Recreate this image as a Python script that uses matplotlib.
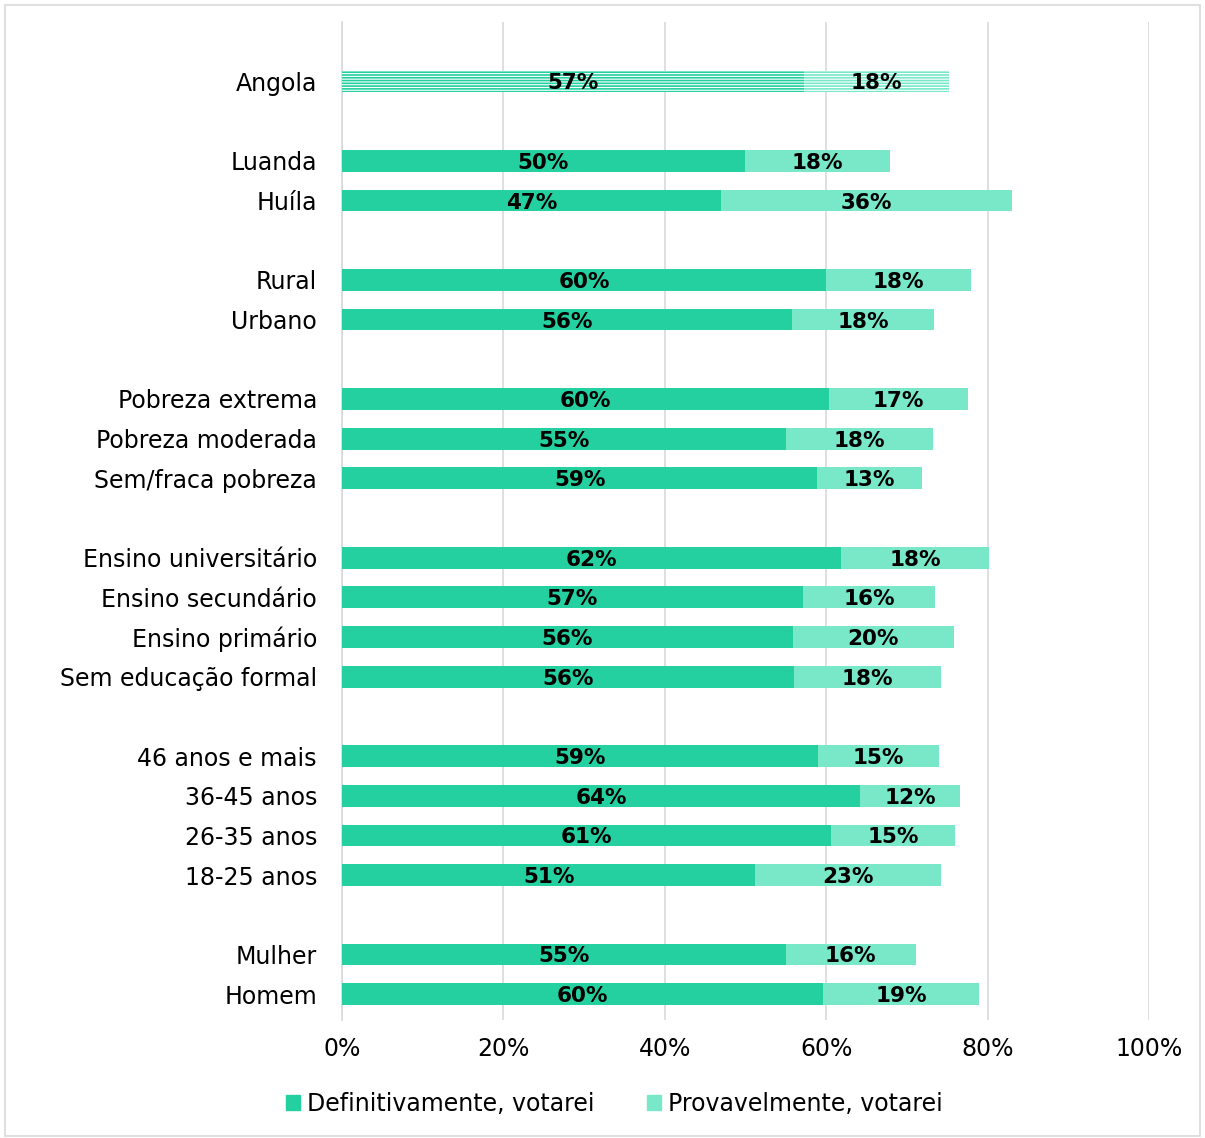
###################################################
# stacked horizontal bars: intenção de voto por grupo
###################################################
import matplotlib.pyplot as plt
from matplotlib.patches import Rectangle

# categories from top to bottom, None marks an empty row between groups
categories = ["Angola", None,
              "Luanda", "Huíla", None,
              "Rural", "Urbano", None,
              "Pobreza extrema", "Pobreza moderada", "Sem/fraca pobreza", None,
              "Ensino universitário", "Ensino secundário", "Ensino primário",
              "Sem educação formal", None,
              "46 anos e mais", "36-45 anos", "26-35 anos", "18-25 anos", None,
              "Mulher", "Homem"]

definitivamente = [57.2, 49.9, 47.0, 60.0, 55.8, 60.3, 55.0, 58.9, 61.8, 57.1,
                   55.9, 56.0, 59.0, 64.2, 60.6, 51.2, 55.0, 59.6]
provavelmente = [18.0, 18.0, 36.0, 18.0, 17.6, 17.3, 18.2, 13.0, 18.4, 16.4,
                 19.9, 18.2, 15.0, 12.4, 15.4, 23.0, 16.1, 19.4]

series_names = ["Definitivamente, votarei", "Provavelmente, votarei"]
c_def = "#25d0a0"
c_prov = "#78e8c9"

plt.rcParams["font.family"] = ["DejaVu Sans"]
plt.rcParams["hatch.color"] = "white"
plt.rcParams["hatch.linewidth"] = 0.8

fig = plt.figure(figsize=(12.05, 11.38), dpi=100)
ax = fig.add_axes([0.2838, 0.1037, 0.6697, 0.877])

# y positions: top row gets highest value
n_rows = len(categories)
ypos = []
labels = []
for i, cat in enumerate(categories):
    if cat is not None:
        ypos.append(n_rows - 1 - i)
        labels.append(cat)

for k, (y, d, p) in enumerate(zip(ypos, definitivamente, provavelmente)):
    hatch = "------" if k == 0 else None
    ax.barh(y, d, height=0.55, color=c_def, hatch=hatch, linewidth=0, zorder=3)
    ax.barh(y, p, left=d, height=0.55, color=c_prov, hatch=hatch, linewidth=0, zorder=3)
    ax.text(d / 2, y - 0.05, f"{d:.0f}%", ha="center", va="center", fontsize=15.5,
            fontweight="bold", color="black", zorder=4)
    ax.text(d + p / 2, y - 0.05, f"{p:.0f}%", ha="center", va="center", fontsize=15.5,
            fontweight="bold", color="black", zorder=4)

ax.set_yticks(ypos)
ax.set_yticklabels(labels, fontsize=17)
ax.set_ylim(-0.65, 24.5)
ax.set_xlim(0, 100)
ax.set_xticks(range(0, 101, 20))
ax.set_xticklabels([f"{v}%" for v in range(0, 101, 20)], fontsize=17)
ax.tick_params(axis="both", length=0)
ax.tick_params(axis="y", pad=18)
ax.tick_params(axis="x", pad=12)
ax.grid(axis="x", color="#d9d9d9", linewidth=1.2, zorder=0)
for s in ["top", "right", "bottom"]:
    ax.spines[s].set_visible(False)
ax.spines["left"].set_color("#d9d9d9")
ax.spines["left"].set_linewidth(1.2)

handles = [Rectangle((0, 0), 1, 1, color=c_def), Rectangle((0, 0), 1, 1, color=c_prov)]
fig.legend(handles, series_names, loc="center", bbox_to_anchor=(0.51, 0.03),
           ncol=2, frameon=False, fontsize=17, handlelength=0.6, handleheight=0.6,
           handletextpad=0.3, columnspacing=2.2)

# light border round the figure
fig.patches.append(Rectangle((0.004, 0.002), 0.992, 0.994, transform=fig.transFigure,
                             fill=False, edgecolor="#d9d9d9", linewidth=1.2))

plt.savefig("out.png", dpi=100)
